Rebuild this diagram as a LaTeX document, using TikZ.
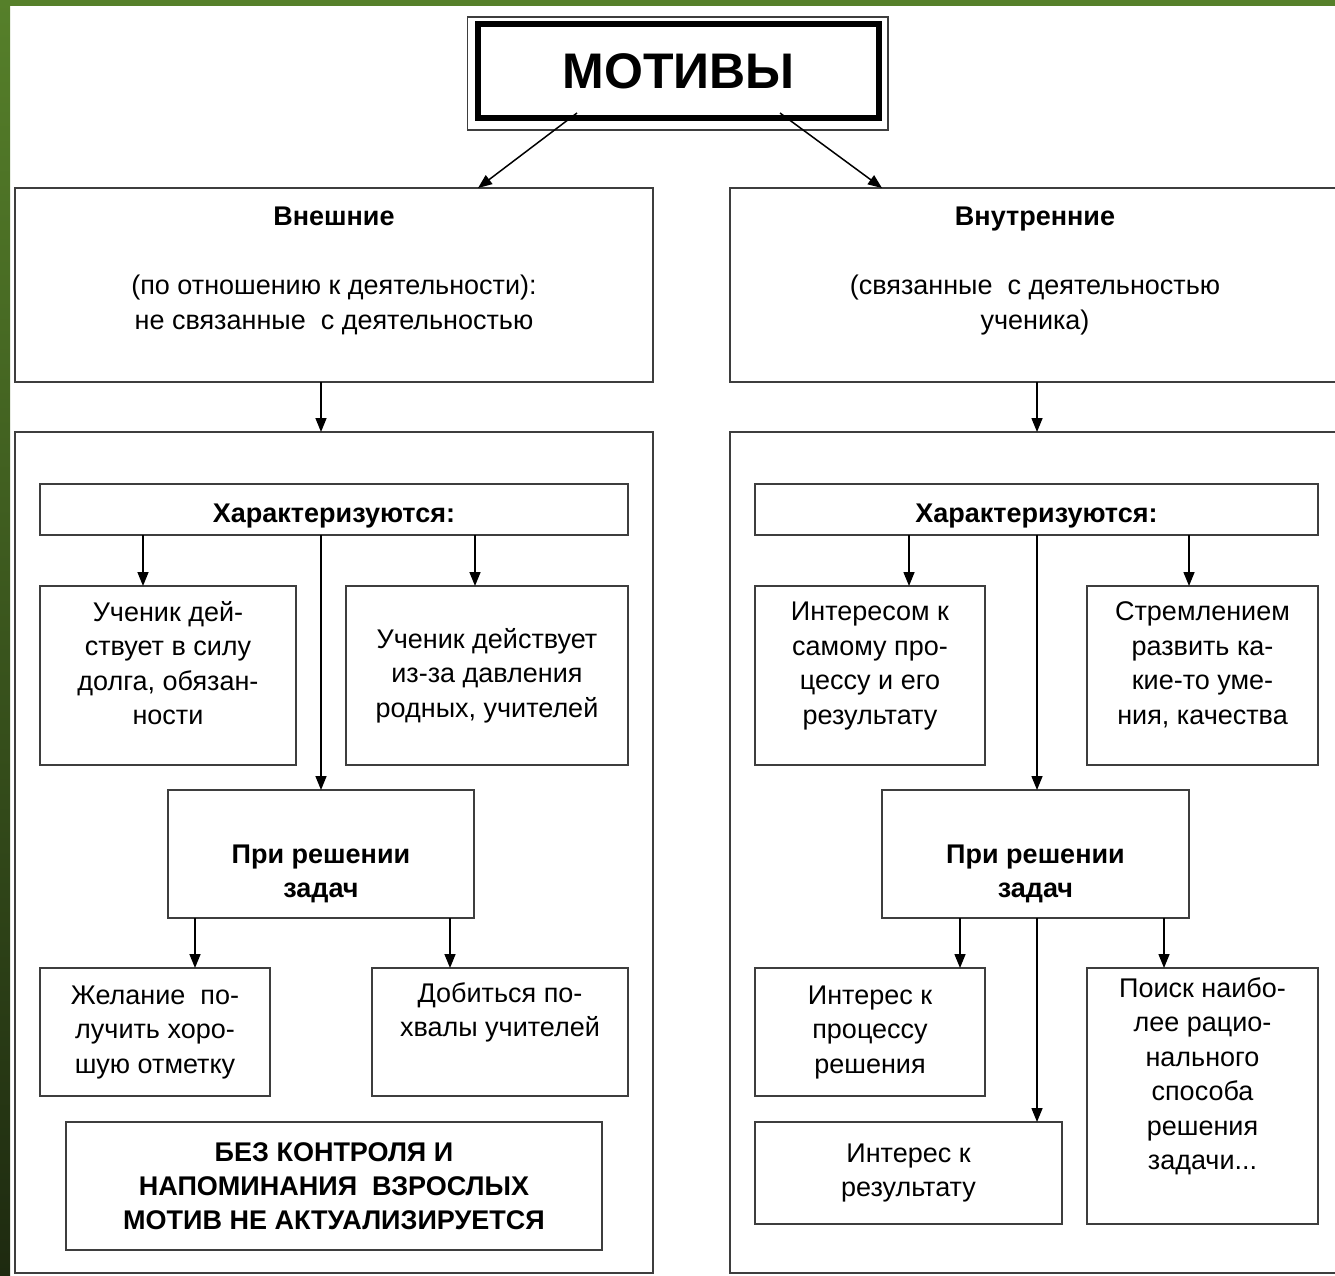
\documentclass[tikz,border=0pt]{standalone}
\usepackage{fontspec}
\setmainfont{Liberation Sans}
\usetikzlibrary{arrows.meta}

\definecolor{ramka}{RGB}{62,62,62}
\definecolor{travatop}{RGB}{86,128,42}
\definecolor{travabot}{RGB}{30,42,16}

\tikzset{
	blok/.style={draw=ramka, line width=1.8pt, align=center, inner sep=0pt, outer sep=0pt,
		font=\fontsize{27}{34.5}\selectfont},
	harbox/.style={blok, minimum height=51, text height=26pt, text depth=0pt, font=\fontsize{27}{34.5}\selectfont\bfseries},
	strel/.style={line width=1.5pt, -{Triangle[length=14pt,width=11pt]}}
}

\begin{document}
\begin{tikzpicture}[x=1pt,y=-1pt]
	\useasboundingbox (0,0) rectangle (1335,1275);
	\clip (0,0) rectangle (1335,1275);
	\shade[top color=travatop, bottom color=travabot] (0,0) rectangle (10,1275);
	\fill[travatop] (0,0) rectangle (1335,6);

	\node[blok, draw=black, line width=6pt, minimum width=401, minimum height=94,
		font=\fontsize{50}{56}\selectfont\bfseries] (motiv) at (678.5,71) {МОТИВЫ};
	\draw[ramka, line width=1.5pt] ([shift={(-10.5,-7)}]motiv.north west) rectangle ([shift={(9,12)}]motiv.south east);

	\node[blok, minimum width=638, minimum height=194] (vnesh) at (334,285)
		{\rule{0pt}{30pt}\textbf{Внешние}\\ \strut\\(по отношению к деятельности):\\не связанные~ с деятельностью\\ \strut};
	\node[blok, minimum width=610, minimum height=194] (vnutr) at (1035,285)
		{\rule{0pt}{30pt}\textbf{Внутренние}\\ \strut\\(связанные~ с деятельностью\\ученика)\\ \strut};
	\node[blok, minimum width=638, minimum height=841] (vneshbig) at (334,852.5) {};
	\node[blok, minimum width=610, minimum height=841] (vnutrbig) at (1035,852.5) {};

	\draw[strel] ([shift={(-101.5,42)}]motiv.center) -- ([xshift=144]vnesh.north);
	\draw[strel] ([shift={(101.5,42)}]motiv.center) -- ([xshift=-153]vnutr.north);
	\draw[strel] ([xshift=-13]vnesh.south) -- ([xshift=-13]vneshbig.north);
	\draw[strel] ([xshift=2]vnutr.south) -- ([xshift=2]vnutrbig.north);

	% vneshnie
	\node[harbox, minimum width=588] (harL) at (334,509.5) {Характеризуются:};
	\node[blok, minimum width=256, minimum height=179] (dolg) at (168,675.5)
		{Ученик дей-\\ствует в силу\\долга, обязан-\\ности\\[-20pt]\strut};
	\node[blok, minimum width=282, minimum height=179] (davl) at (487,675.5)
		{Ученик действует\\из-за давления\\родных, учителей};
	\node[blok, minimum width=306, minimum height=128] (reshL) at (321,854)
		{\strut\\\textbf{При решении}\\\textbf{задач}};
	\node[blok, minimum width=230, minimum height=128] (otmetka) at (155,1032)
		{Желание~ по-\\лучить хоро-\\шую отметку};
	\node[blok, minimum width=256, minimum height=128] (pohvala) at (500,1032)
		{Добиться по-\\хвалы учителей\\ \strut};
	\node[blok, minimum width=536, minimum height=128, font=\fontsize{27}{34}\selectfont\bfseries] (bezkontr) at (334,1186)
		{БЕЗ КОНТРОЛЯ И\\НАПОМИНАНИЯ~ ВЗРОСЛЫХ\\МОТИВ НЕ АКТУАЛИЗИРУЕТСЯ};

	\draw[strel] ([xshift=-25]dolg.north |- harL.south) -- ([xshift=-25]dolg.north);
	\draw[strel] ([xshift=-12]davl.north |- harL.south) -- ([xshift=-12]davl.north);
	\draw[strel] (reshL.north |- harL.south) -- (reshL.north);
	\draw[strel] ([xshift=40]otmetka.north |- reshL.south) -- ([xshift=40]otmetka.north);
	\draw[strel] ([xshift=-50]pohvala.north |- reshL.south) -- ([xshift=-50]pohvala.north);

	% vnutrennie
	\node[harbox, minimum width=563] (harR) at (1036.5,509.5) {Характеризуются:};
	\node[blok, minimum width=230, minimum height=179] (process) at (870,675.5)
		{Интересом к\\самому про-\\цессу и его\\результату\\[-20pt]\strut};
	\node[blok, minimum width=231, minimum height=179] (umenie) at (1202.5,675.5)
		{Стремлением\\развить ка-\\кие-то уме-\\ния, качества\\[-20pt]\strut};
	\node[blok, minimum width=307, minimum height=128] (reshR) at (1035.5,854)
		{\strut\\\textbf{При решении}\\\textbf{задач}};
	\node[blok, minimum width=230, minimum height=128] (intproc) at (870,1032)
		{Интерес к\\процессу\\решения};
	\node[blok, minimum width=307, minimum height=102] (intres) at (908.5,1173)
		{Интерес к\\результату};
	\node[blok, minimum width=231, minimum height=256] (poisk) at (1202.5,1096)
		{Поиск наибо-\\лее рацио-\\нального\\способа\\решения\\задачи...\\ \strut};

	\draw[strel] ([xshift=39]process.north |- harR.south) -- ([xshift=39]process.north);
	\draw[strel] ([xshift=-13.5]umenie.north |- harR.south) -- ([xshift=-13.5]umenie.north);
	\draw[strel] ([xshift=1.5]reshR.north |- harR.south) -- ([xshift=1.5]reshR.north);
	\draw[strel] ([xshift=90]intproc.north |- reshR.south) -- ([xshift=90]intproc.north);
	\draw[strel] ([xshift=-38.5]poisk.north |- reshR.south) -- ([xshift=-38.5]poisk.north);
	\draw[strel] ([xshift=128.5]intres.north |- reshR.south) -- ([xshift=128.5]intres.north);
\end{tikzpicture}
\end{document}
